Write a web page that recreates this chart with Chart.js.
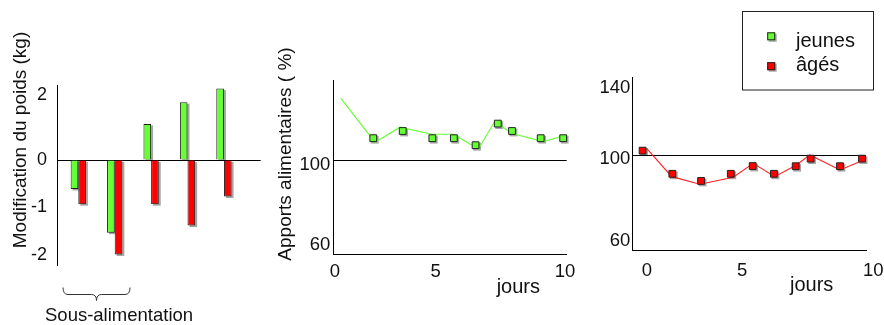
<!DOCTYPE html>
<html>
<head>
<meta charset="utf-8">
<title>Poids et apports alimentaires</title>
<script src="https://cdn.jsdelivr.net/npm/chart.js@4.4.1/dist/chart.umd.min.js"></script>
<style>
  html, body { margin: 0; padding: 0; background: #fff; width: 884px; height: 325px; overflow: hidden; }
  canvas { position: absolute; top: 0; }
</style>
</head>
<body>
<canvas id="weight" width="268" height="325" style="left:0"></canvas>
<canvas id="intakeYoung" width="312" height="325" style="left:268px"></canvas>
<canvas id="intakeOld" width="304" height="325" style="left:580px"></canvas>
<script>
// ---------- data ----------
const seriesNames = ['jeunes', 'âgés'];
const seriesColors = ['#66ff33', '#ff0000'];
const lineColors = ['#66ff33', '#ff2020'];

// weight change (kg) per group
const groups = [1, 2, 3, 4, 5];
const weightYoung = [-0.61, -1.53, 1.12, 1.79, 2.22];
const weightOld = [-0.93, -1.99, -0.93, -1.38, -0.77];
const weightTicks = [-2, -1, 0, 2];
const underfedGroups = [1, 2];

// food intake (%) over days
const dayTicks = [0, 5, 10];
const intakeTicksYoung = [60, 100];
const intakeTicksOld = [60, 100, 140];

const youngDays = [1.90, 3.36, 4.83, 5.70, 6.54, 7.40, 7.95, 9.06, 9.93];
const youngIntake = [110.9, 114.5, 110.9, 110.9, 107.4, 118.2, 114.5, 110.9, 110.9];
const youngTrendDays = [0.28, 1.98, 3.23, 4.80, 5.68, 6.65, 7.29, 7.91, 9.16, 9.93];
const youngTrend = [130.9, 108.9, 116.4, 112.9, 112.9, 105.5, 119.5, 113.4, 109.2, 112.0];

const oldDays = [-0.23, 1.33, 2.84, 4.40, 5.40, 6.21, 7.04, 7.61, 8.73, 9.57];
const oldIntake = [103.0, 91.3, 87.8, 91.3, 95.1, 91.3, 95.0, 98.7, 95.0, 98.7];
const oldTrendDays = [-0.02, 1.30, 2.78, 4.53, 5.42, 6.24, 7.07, 7.58, 8.73, 9.57];
const oldTrend = [104.3, 89.9, 86.2, 89.6, 96.4, 89.9, 95.6, 100.6, 93.2, 97.7];

// ---------- setup ----------
const FONT = "'Liberation Sans', Arial, sans-serif";
Chart.defaults.font.family = FONT;
Chart.defaults.color = '#111';
Chart.defaults.animation = false;

// Linear scale whose value-to-position mapping is piecewise linear between knots
// given as [value, fraction of axis length]; extrapolates past the end knots.
class PiecewiseScale extends Chart.LinearScale {
  static id = 'piecewise';
  static defaults = Chart.LinearScale.defaults;
  _fracFor(v) {
    const k = this.options.knots;
    let i = 0;
    while (i < k.length - 2 && v > k[i + 1][0]) i++;
    const a = k[i], b = k[i + 1];
    return a[1] + (v - a[0]) * (b[1] - a[1]) / (b[0] - a[0]);
  }
  _valueFor(f) {
    const k = this.options.knots;
    let i = 0;
    while (i < k.length - 2 && f > k[i + 1][1]) i++;
    const a = k[i], b = k[i + 1];
    return a[0] + (f - a[1]) * (b[0] - a[0]) / (b[1] - a[1]);
  }
  determineDataLimits() {
    this.min = this._valueFor(0);
    this.max = this._valueFor(1);
  }
  getPixelForValue(value) {
    if (value === null || value === undefined || isNaN(value)) return NaN;
    return this.getPixelForDecimal(this._fracFor(value));
  }
  getValueForPixel(pixel) {
    return this._valueFor(this.getDecimalForPixel(pixel));
  }
}
Chart.register(PiecewiseScale);

const pairs = (xs, ys) => xs.map((x, i) => ({ x, y: ys[i] }));
const setTicks = values => scale => { scale.ticks = values.map(value => ({ value })); };
const fixSize = (w, h) => scale => {
  if (w != null) scale.width = w;
  if (h != null) scale.height = h;
  scale.paddingLeft = scale.paddingRight = scale.paddingTop = scale.paddingBottom = 0;
};
const refLine = v => ctx => (ctx.tick && ctx.tick.value === v) ? '#000' : 'rgba(0,0,0,0)';
const plainLabel = v => String(v);

function drawText(ctx, text, x, y, size, align, rotate) {
  ctx.save();
  ctx.fillStyle = '#111';
  ctx.font = size + 'px ' + FONT;
  ctx.textAlign = align || 'left';
  ctx.textBaseline = 'alphabetic';
  ctx.translate(x, y);
  if (rotate) ctx.rotate(rotate);
  ctx.fillText(text, 0, 0);
  ctx.restore();
}

// grey drop shadow under bars and square markers
const dropShadow = {
  id: 'dropShadow',
  beforeDatasetsDraw(chart) {
    const ctx = chart.ctx;
    ctx.save();
    ctx.fillStyle = 'rgba(0,0,0,0.35)';
    chart.data.datasets.forEach((ds, i) => {
      if (!ds.shadow) return;
      const meta = chart.getDatasetMeta(i);
      meta.data.forEach(el => {
        if (meta.type === 'bar') {
          const { x, y, base, width } = el.getProps(['x', 'y', 'base', 'width'], true);
          ctx.fillRect(x - width / 2 + 2, Math.min(y, base) + 1.5, width, Math.abs(base - y));
        } else {
          const s = el.options.radius * Math.SQRT2 + 1;
          ctx.fillRect(el.x - s / 2 + 1.5, el.y - s / 2 + 1.5, s, s);
        }
      });
    });
    ctx.restore();
  }
};

function markerSet(i, days, values) {
  return {
    label: seriesNames[i],
    data: pairs(days, values),
    showLine: false,
    pointStyle: 'rect',
    pointRadius: 4.8,
    pointBackgroundColor: seriesColors[i],
    pointBorderColor: '#222',
    pointBorderWidth: 1,
    shadow: true
  };
}
function trendSet(i, days, values) {
  return {
    label: seriesNames[i],
    data: pairs(days, values),
    showLine: true,
    borderColor: lineColors[i],
    borderWidth: 1.1,
    pointRadius: 0,
    tension: 0
  };
}

// ---------- weight change ----------
const weightNotes = {
  id: 'weightNotes',
  afterDraw(chart) {
    const ctx = chart.ctx;
    drawText(ctx, 'Modification du poids (kg)', 26, 140, 19, 'center', -Math.PI / 2);
    const xs = chart.scales.x;
    const l = xs.getPixelForValue(underfedGroups[0] - 0.42);
    const r = xs.getPixelForValue(underfedGroups[underfedGroups.length - 1] + 0.42);
    const m = (l + r) / 2, top = 287.5, mid = 294.5, tip = 300.5, c = 5;
    ctx.save();
    ctx.strokeStyle = '#333';
    ctx.lineWidth = 1;
    ctx.beginPath();
    ctx.moveTo(l, top);
    ctx.quadraticCurveTo(l, mid, l + c, mid);
    ctx.lineTo(m - c, mid);
    ctx.quadraticCurveTo(m, mid, m, tip);
    ctx.quadraticCurveTo(m, mid, m + c, mid);
    ctx.lineTo(r - c, mid);
    ctx.quadraticCurveTo(r, mid, r, top);
    ctx.stroke();
    ctx.restore();
    drawText(ctx, 'Sous-alimentation', 45, 321, 18.5, 'left');
  }
};

function barSet(i, values) {
  return {
    label: seriesNames[i],
    data: pairs(groups, values),
    backgroundColor: seriesColors[i],
    borderColor: '#1d1d1d',
    borderWidth: 1,
    categoryPercentage: 0.42,
    barPercentage: 1,
    shadow: true
  };
}

new Chart(document.getElementById('weight'), {
  type: 'bar',
  data: { datasets: [barSet(0, weightYoung), barSet(1, weightOld)] },
  options: {
    responsive: false,
    animation: false,
    events: [],
    layout: { padding: { left: 0, right: 7.3, top: 85, bottom: 60 } },
    plugins: { legend: { display: false }, tooltip: { enabled: false } },
    scales: {
      x: {
        type: 'linear', display: false, offset: false, min: 0.415, max: 6.01,
        afterBuildTicks: setTicks(groups)
      },
      y: {
        type: 'piecewise',
        knots: [[-2, 0.0556], [0, 0.5833], [2, 0.9417]],
        afterBuildTicks: setTicks(weightTicks),
        afterFit: fixSize(57, null),
        grid: { drawTicks: false, color: refLine(0), lineWidth: 1 },
        border: { display: true, color: '#000', width: 1 },
        ticks: { padding: 10, font: { size: 18 }, color: '#111', callback: plainLabel }
      }
    }
  },
  plugins: [dropShadow, weightNotes]
});

// ---------- food intake, young ----------
const youngNotes = {
  id: 'youngNotes',
  afterDraw(chart) {
    drawText(chart.ctx, 'Apports alimentaires ( %)', 23, 154, 19, 'center', -Math.PI / 2);
    drawText(chart.ctx, 'jours', chart.chartArea.right - 48.4, 293.3, 20, 'center');
  }
};

new Chart(document.getElementById('intakeYoung'), {
  type: 'scatter',
  data: { datasets: [markerSet(0, youngDays, youngIntake), trendSet(0, youngTrendDays, youngTrend)] },
  options: {
    responsive: false,
    animation: false,
    events: [],
    layout: { padding: { left: 0, right: 13.3, top: 80.7, bottom: 0 } },
    plugins: { legend: { display: false }, tooltip: { enabled: false } },
    scales: {
      x: {
        type: 'piecewise',
        knots: [[0, 0.0073], [5, 0.439], [10, 0.9927]],
        afterBuildTicks: setTicks(dayTicks),
        afterFit: fixSize(null, 71),
        grid: { display: false, drawTicks: false },
        border: { display: true, color: '#000', width: 1 },
        ticks: { padding: 6.6, font: { size: 18.5 }, color: '#111', maxRotation: 0, autoSkip: false, callback: plainLabel }
      },
      y: {
        type: 'piecewise',
        knots: [[60, 0.0808], [100, 0.5424]],
        afterBuildTicks: setTicks(intakeTicksYoung),
        afterFit: fixSize(65.3, null),
        grid: { drawTicks: false, color: refLine(100), lineWidth: 1 },
        border: { display: true, color: '#000', width: 1 },
        ticks: { padding: 3, labelOffset: 5, font: { size: 18.5 }, color: '#111', callback: plainLabel }
      }
    }
  },
  plugins: [dropShadow, youngNotes]
});

// ---------- food intake, old ----------
const oldNotes = {
  id: 'oldNotes',
  afterDraw(chart) {
    const ctx = chart.ctx;
    drawText(ctx, 'jours', chart.chartArea.right - 54.3, 291, 20, 'center');
    // legend box
    ctx.save();
    ctx.strokeStyle = '#222';
    ctx.lineWidth = 1;
    ctx.strokeRect(162.5, 11.5, 131, 78.5);
    const markerY = [36.3, 66.2];
    const textY = [47.3, 70.5];
    seriesNames.forEach((name, i) => {
      const cx = 191.2, cy = markerY[i];
      ctx.fillStyle = 'rgba(0,0,0,0.35)';
      ctx.fillRect(cx - 4 + 1.5, cy - 4 + 1.5, 8, 8);
      ctx.fillStyle = seriesColors[i];
      ctx.fillRect(cx - 4, cy - 4, 8, 8);
      ctx.strokeStyle = '#222';
      ctx.strokeRect(cx - 3.5, cy - 3.5, 7, 7);
      drawText(ctx, name, 216, textY[i], 20, 'left');
    });
    ctx.restore();
  }
};

new Chart(document.getElementById('intakeOld'), {
  type: 'scatter',
  data: { datasets: [markerSet(1, oldDays, oldIntake), trendSet(1, oldTrendDays, oldTrend)] },
  options: {
    responsive: false,
    animation: false,
    events: [],
    layout: { padding: { left: 0, right: 18, top: 77.3, bottom: 0 } },
    plugins: { legend: { display: false }, tooltip: { enabled: false } },
    scales: {
      x: {
        type: 'piecewise',
        knots: [[0, 0.0629], [5, 0.4703], [10, 1.0312]],
        afterBuildTicks: setTicks(dayTicks),
        afterFit: fixSize(null, 75),
        grid: { display: false, drawTicks: false },
        border: { display: true, color: '#000', width: 1 },
        ticks: { padding: 9.7, font: { size: 18.5 }, color: '#111', maxRotation: 0, autoSkip: false, callback: plainLabel }
      },
      y: {
        type: 'piecewise',
        knots: [[60, 0.0706], [100, 0.5443], [140, 0.9583]],
        afterBuildTicks: setTicks(intakeTicksOld),
        afterFit: fixSize(52.3, null),
        grid: { drawTicks: false, color: refLine(100), lineWidth: 1 },
        border: { display: true, color: '#000', width: 1 },
        ticks: { padding: 2, labelOffset: 3, font: { size: 18.5 }, color: '#111', callback: plainLabel }
      }
    }
  },
  plugins: [dropShadow, oldNotes]
});
</script>
</body>
</html>
